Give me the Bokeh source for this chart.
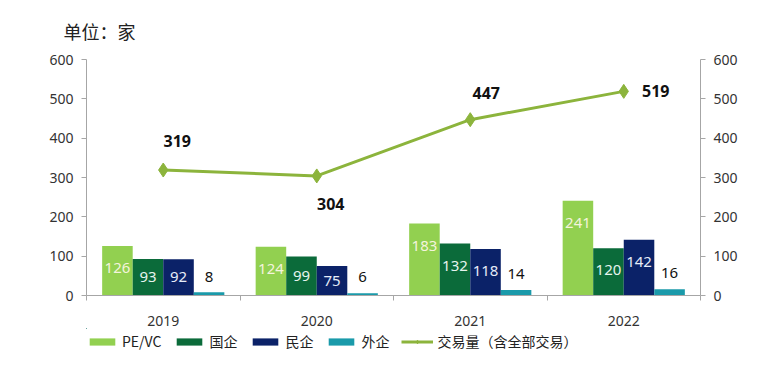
from bokeh.plotting import figure
from bokeh.layouts import column
from bokeh.models import (ColumnDataSource, LinearAxis, FixedTicker, Range1d,
                          Legend, LegendItem)
from bokeh.core.properties import value
from bokeh.embed import file_html
from bokeh.resources import INLINE

years = ["2019", "2020", "2021", "2022"]
pevc = [126, 124, 183, 241]
soe = [93, 99, 132, 120]
private = [92, 75, 118, 142]
foreign = [8, 6, 14, 16]
total = [319, 304, 447, 519]

series_names = ["PE/VC", "国企", "民企", "外企"]
series_vals = [pevc, soe, private, foreign]
total_name = "交易量（含全部交易）"
colors = ["#92D050", "#0B6B3A", "#0B2268", "#1A9AAA"]
label_colors = ["#F4F4DC", "#E6F4EE", "#E6ECF8", "#111111"]
line_color = "#8CB43C"

NUM_FONT = "Noto Sans"
CJK_FONT = "Noto Sans CJK SC"

p = figure(frame_width=614, frame_height=236, output_backend="svg", toolbar_location=None,
           x_range=Range1d(0, 4), y_range=Range1d(0, 600),
           min_border_left=86, min_border_right=54, min_border_top=59,
           min_border_bottom=20)
p.outline_line_color = None
p.xgrid.visible = False
p.ygrid.visible = False

p.title.text = "单位：家"
p.title.text_font = CJK_FONT
p.title.text_font_size = "18px"
p.title.text_font_style = "normal"
p.title.text_color = "#222222"
p.title.offset = -23
p.title.standoff = 31

# legend strip: a small figure whose ranges keep its copies of the marks out of view
q = figure(width=740, height=26, output_backend="svg", toolbar_location=None,
           x_axis_type=None, y_axis_type=None, min_border=0,
           x_range=Range1d(100, 101), y_range=Range1d(-2, -1))
q.outline_line_color = None
q.xgrid.visible = False
q.ygrid.visible = False

n = len(years)
bw = 0.199
leg_renderers = []
for k, (name, vals, col, lc) in enumerate(zip(series_names, series_vals, colors, label_colors)):
    xs = [i + 0.5 + (k - 1.5) * bw for i in range(n)]
    src = ColumnDataSource(dict(x=xs, top=vals))
    p.vbar(x="x", top="top", width=bw, bottom=0, source=src,
           fill_color=col, line_color=None)
    leg_renderers.append([q.vbar(x="x", top="top", width=bw, bottom=0, source=src,
                                 fill_color=col, line_color=None)])
    if k < 3:
        ly = [max(v - 56, v / 2) for v in vals]
    else:
        ly = [v + 40 for v in vals]
    lsrc = ColumnDataSource(dict(x=xs, y=ly, t=[str(v) for v in vals]))
    p.text(x="x", y="y", text="t", source=lsrc, text_align="center",
           text_baseline="middle", text_color=lc, text_font=value(NUM_FONT),
           text_font_size="15px")

lx = [i + 0.5 for i in range(n)]
lsrc = ColumnDataSource(dict(x=lx, y=total))
p.line("x", "y", source=lsrc, line_color=line_color, line_width=3)
p.scatter("x", "y", source=lsrc, marker="diamond", size=14,
          fill_color=line_color, line_color=line_color)
leg_renderers.append([
    q.line("x", "y", source=lsrc, line_color=line_color, line_width=3),
    q.scatter("x", "y", source=lsrc, marker="diamond", size=9,
              fill_color=line_color, line_color=line_color),
])

# label placement for the total line (screen offsets)
x_offs = [14, 14, 16, 32]
y_offs = [-29, 28, -27, 0]
tsrc = ColumnDataSource(dict(x=lx, y=total, t=[str(v) for v in total],
                             xo=x_offs, yo=y_offs))
p.text(x="x", y="y", text="t", source=tsrc, x_offset="xo", y_offset="yo",
       text_align="center", text_baseline="middle", text_color="#111111",
       text_font=value(NUM_FONT), text_font_size="16px", text_font_style="bold")

axis_col = "#A6A6A6"
tick_lbl_col = "#333333"

xa = p.xaxis[0]
xa.ticker = FixedTicker(ticks=lx, minor_ticks=list(range(n + 1)))
xa.major_label_overrides = {x: y for x, y in zip(lx, years)}
xa.major_tick_line_color = None
xa.minor_tick_line_color = axis_col
xa.minor_tick_out = 5
xa.minor_tick_in = 0
xa.axis_line_color = axis_col
xa.major_label_text_font = NUM_FONT
xa.major_label_text_font_size = "14px"
xa.major_label_text_color = tick_lbl_col
xa.major_label_standoff = 14

ya = p.yaxis[0]
ra = LinearAxis()
p.add_layout(ra, "right")
for ax in (ya, ra):
    ax.ticker = FixedTicker(ticks=[0, 100, 200, 300, 400, 500, 600])
    ax.axis_line_color = axis_col
    ax.major_tick_line_color = axis_col
    ax.major_tick_out = 5
    ax.major_tick_in = 0
    ax.minor_tick_line_color = None
    ax.major_label_text_font = NUM_FONT
    ax.major_label_text_font_size = "14px"
    ax.major_label_text_color = tick_lbl_col
    ax.major_label_standoff = 8

items = [LegendItem(label=nm, renderers=rs)
         for nm, rs in zip(series_names + [total_name], leg_renderers)]
legend = Legend(items=items, orientation="horizontal", location=(0, 3),
                label_text_font=CJK_FONT, label_text_font_size="14px",
                label_text_color="#222222", glyph_width=32, glyph_height=9,
                label_height=20, label_standoff=4, spacing=12, padding=0, margin=0,
                border_line_color=None, background_fill_alpha=0)
q.add_layout(legend, "center")

layout = column(p, q, spacing=0)
open("out.html", "w").write(file_html(layout, INLINE))
